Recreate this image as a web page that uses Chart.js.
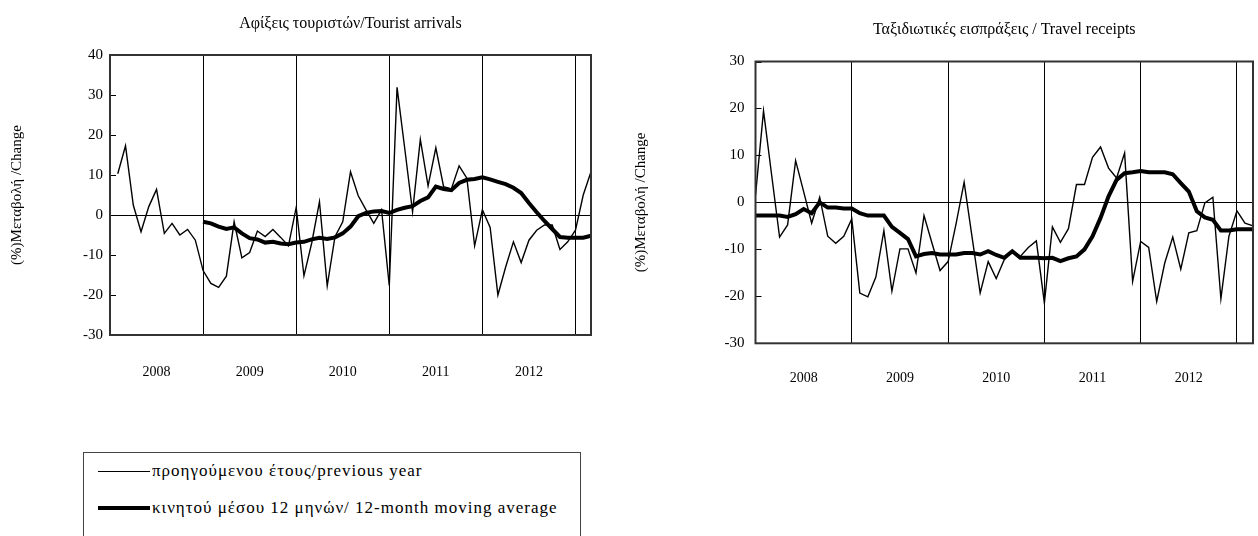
<!DOCTYPE html>
<html>
<head>
<meta charset="utf-8">
<script src="https://cdn.jsdelivr.net/npm/chart.js@4.4.1/dist/chart.umd.min.js"></script>
<style>
  html, body { margin: 0; padding: 0; background: #fff; overflow: hidden; }
  body { width: 1258px; height: 536px; position: relative; font-family: "Liberation Serif", serif; }
  #arrivals { position: absolute; left: 0; top: 0; }
  #receipts { position: absolute; left: 620px; top: 0; }
  #legend {
    position: absolute; left: 83px; top: 452px; width: 498px; height: 110px;
    border: 1px solid #444; box-sizing: border-box;
  }
  .item { position: absolute; left: 14px; height: 20px; font-size: 17px; letter-spacing: 1px; color: #000; white-space: nowrap; }
  .item .line { position: absolute; left: 0; width: 52px; background: #000; }
  .item span { position: absolute; left: 54px; top: 0; line-height: 20px; }
</style>
</head>
<body>
<canvas id="arrivals" width="620" height="400"></canvas>
<canvas id="receipts" width="660" height="410"></canvas>
<div id="legend">
  <div class="item" style="top:8px"><div class="line" style="top:10px;height:1px"></div><span>προηγούμενου έτους/previous year</span></div>
  <div class="item" style="top:45px"><div class="line" style="top:8px;height:4px"></div><span>κινητού μέσου 12 μηνών/ 12-month moving average</span></div>
</div>
<script>
// x positions: Dec 2007 .. Feb 2013, one slot per month
const months = ['12/2007'];
for (let y = 2008; y <= 2012; y++) {
  for (let m = 1; m <= 12; m++) months.push(m + '/' + y);
}
months.push('1/2013', '2/2013');

const yearLabels = ['2008', '2009', '2010', '2011', '2012'];

// Tourist arrivals, % change on previous year
const arrivalsYoY = [null,
  10.3, 17.3, 2.5, -4.2, 2.1, 6.4, -4.6, -2.1, -5.0, -3.6, -6.3, -13.9,
  -17.1, -18.1, -15.3, -1.7, -10.7, -9.4, -4.0, -5.4, -3.6, -5.6, -7.7, 1.9,
  -15.2, -7.0, 3.3, -17.7, -5.4, -1.7, 10.8, 4.8, 1.3, -2.1, 1.3, -17.7,
  31.9, 16.5, 0.8, 18.9, 7.3, 16.8, 7.1, 6.5, 12.3, 9.2, -7.7, 1.3,
  -3.1, -20.0, -13.0, -6.7, -11.9, -6.3, -3.8, -2.5, -2.5, -8.6, -6.7, -3.8,
  5.0, 10.8];

// Tourist arrivals, 12-month moving average
const arrivalsMA = [null, null, null, null, null, null, null, null, null, null, null, null,
  -1.7, -2.1, -2.9, -3.5, -3.1, -4.6, -5.8, -6.1, -6.9, -6.7, -7.1, -7.3,
  -6.9, -6.7, -6.1, -5.7, -6.0, -5.6, -4.6, -2.9, -0.3, 0.5, 0.9, 1.0,
  0.5, 1.3, 1.8, 2.2, 3.5, 4.4, 7.1, 6.5, 6.2, 8.0, 8.8, 9.0,
  9.4, 8.9, 8.3, 7.7, 6.8, 5.5, 3.0, 0.7, -1.5, -3.5, -5.5, -5.7,
  -5.7, -5.7, -5.2];

// Travel receipts, % change on previous year
const receiptsYoY = [
  1.5, 19.5, 6.0, -7.4, -4.8, 8.9, 2.3, -4.4, 1.1, -7.2, -8.7, -7.2,
  -3.5, -19.3, -20.1, -15.9, -6.0, -18.9, -9.9, -9.9, -15.0, -2.8, -8.7, -14.5,
  -12.6, -4.5, 4.3, -7.5, -19.3, -12.6, -16.2, -12.2, -10.3, -11.5, -9.6, -8.2,
  -21.4, -5.2, -8.5, -5.6, 3.8, 3.8, 9.6, 11.8, 7.3, 5.2, 10.5, -16.8,
  -8.3, -9.6, -21.1, -12.9, -7.4, -14.2, -6.5, -6.0, -0.1, 1.1, -20.5, -7.2,
  -1.8, -4.4, -5.0];

// Travel receipts, 12-month moving average
const receiptsMA = [
  -2.8, -2.8, -2.8, -2.8, -3.1, -2.5, -1.4, -2.3, 0.0, -1.1, -1.1, -1.3,
  -1.3, -2.3, -2.8, -2.8, -2.8, -5.2, -6.5, -7.8, -11.5, -11.0, -10.8, -11.1,
  -11.1, -11.1, -10.8, -10.8, -11.1, -10.4, -11.2, -11.8, -10.4, -11.8, -11.8, -11.8,
  -11.9, -11.8, -12.5, -11.9, -11.5, -10.0, -7.2, -3.3, 1.3, 4.8, 6.2, 6.4,
  6.7, 6.4, 6.4, 6.4, 6.0, 4.1, 2.3, -1.9, -3.2, -3.7, -6.0, -6.0,
  -5.7, -5.7, -5.7];

const serif = 'Liberation Serif';

// box round the plot area plus short tick marks pointing inward
const frame = {
  id: 'frame',
  afterDraw(chart) {
    const ctx = chart.ctx;
    const a = chart.chartArea;
    const ys = chart.scales.y;
    ctx.save();
    ctx.strokeStyle = '#000';
    ctx.lineWidth = 1;
    ys.ticks.forEach((t, i) => {
      const py = Math.round(ys.getPixelForTick(i)) + 0.5;
      ctx.beginPath();
      ctx.moveTo(a.left, py);
      ctx.lineTo(a.left + 6, py);
      ctx.stroke();
    });
    ctx.strokeStyle = '#333';
    ctx.lineWidth = 2;
    ctx.strokeRect(a.left, a.top, a.right - a.left, a.bottom - a.top);
    ctx.restore();
  }
};

function makeChart(id, opts) {
  return new Chart(document.getElementById(id), {
    type: 'line',
    data: {
      labels: months,
      datasets: [
        { data: opts.yoy, borderColor: '#000', borderWidth: 1.4, pointRadius: 0, tension: 0 },
        { data: opts.ma, borderColor: '#000', borderWidth: 4, pointRadius: 0, tension: 0 }
      ]
    },
    options: {
      responsive: false,
      animation: false,
      layout: { padding: { left: 0, right: opts.padRight, top: 0, bottom: 0 } },
      plugins: {
        legend: { display: false },
        tooltip: { enabled: false },
        title: {
          display: true,
          fullSize: false,
          text: opts.title,
          color: '#000',
          font: { family: serif, size: 16, weight: 'normal' },
          padding: opts.titlePad
        }
      },
      scales: {
        x: {
          type: 'category',
          offset: false,
          afterFit: s => { s.height = opts.xHeight; },
          border: { display: false },
          grid: {
            drawTicks: false,
            color: c => (c.index > 0 && c.index % 12 === 0) ? '#000' : 'rgba(0,0,0,0)',
            lineWidth: 1
          },
          ticks: {
            autoSkip: false,
            maxRotation: 0,
            padding: opts.xPad,
            color: '#000',
            font: { family: serif, size: 14 },
            callback: (v, i) => (i % 12 === 6) ? yearLabels[(i - 6) / 12] : ''
          }
        },
        y: {
          min: opts.yMin,
          max: opts.yMax,
          afterFit: s => { s.width = opts.yWidth; },
          border: { display: false },
          grid: {
            drawTicks: false,
            color: c => (c.tick && c.tick.value === 0) ? '#000' : 'rgba(0,0,0,0)',
            lineWidth: 1
          },
          ticks: {
            stepSize: 10,
            padding: opts.yPad,
            color: '#000',
            font: { family: serif, size: 15 }
          },
          title: {
            display: true,
            text: '(%)Μεταβολή /Change',
            color: '#000',
            font: { family: serif, size: 15 },
            padding: { top: opts.yTitlePad, bottom: 0 }
          }
        }
      }
    },
    plugins: [frame]
  });
}

makeChart('arrivals', {
  title: 'Αφίξεις τουριστών/Tourist arrivals',
  yoy: arrivalsYoY, ma: arrivalsMA,
  yMin: -30, yMax: 40,
  padRight: 22, yWidth: 110, xHeight: 65,
  titlePad: { top: 14, bottom: 21.8 },
  xPad: 29, yPad: 7, yTitlePad: 8
});

makeChart('receipts', {
  title: 'Ταξιδιωτικές εισπράξεις / Travel receipts',
  yoy: receiptsYoY, ma: receiptsMA,
  yMin: -30, yMax: 30,
  padRight: 13, yWidth: 135.5, xHeight: 66.7,
  titlePad: { top: 20, bottom: 22.3 },
  xPad: 27, yPad: 11, yTitlePad: 12
});
</script>
</body>
</html>
